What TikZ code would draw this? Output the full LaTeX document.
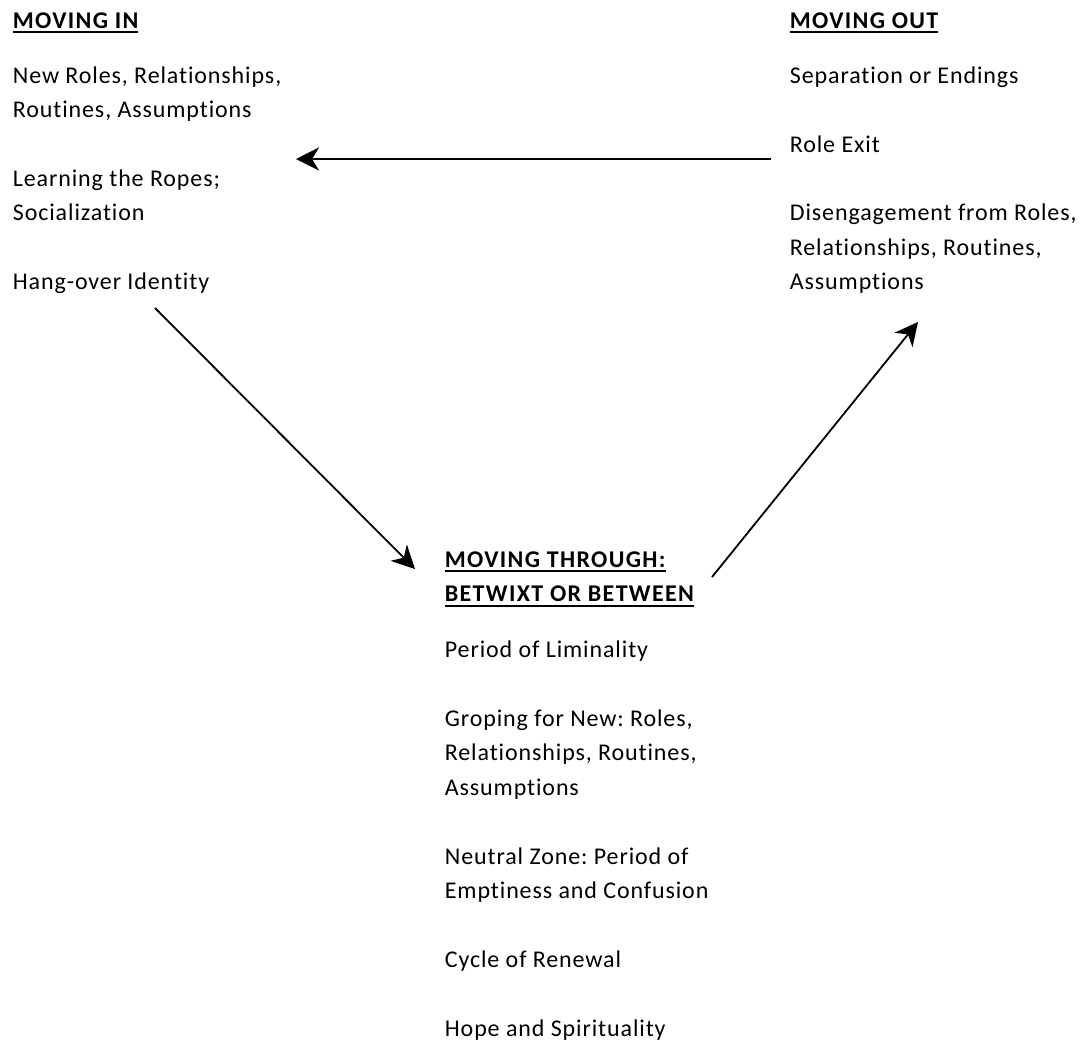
\documentclass[tikz,border=0pt]{standalone}
\usepackage{fontspec}
\setmainfont{Carlito}[Ligatures=NoCommon,LetterSpace=3.7]
\usetikzlibrary{arrows.meta}
\frenchspacing

\newcommand{\headline}[1]{\setbox0\hbox{#1}\rlap{\rule[-5pt]{\wd0}{1.6pt}}\box0}

\begin{document}
\begin{tikzpicture}[x=1pt,y=-1pt,->,>={Stealth[length=23pt,width=23pt,inset=7pt]},line width=1.8pt]
\tikzset{every node/.style={inner sep=0pt,anchor=base west,align=left,font=\fontsize{24}{34.5}\selectfont},
         head/.style={font=\fontsize{24}{34.5}\selectfont\bfseries\addfontfeatures{LetterSpace=5.6}}}
\useasboundingbox (0,0) rectangle (1086,1042);

% moving in (base = last line)
\node[head] (inhead) at (12,28) {\headline{MOVING IN}};
\node (innew) at (12,117.5) {New Roles, Relationships,\\Routines, Assumptions};
\node (inropes) at (12,220.5) {Learning the Ropes;\\Socialization};
\node (inhang) at (12,289) {Hang-over Identity};

% moving out
\node[head] (outhead) at (789,28) {\headline{MOVING OUT}};
\node (outsep) at (789,83) {Separation or Endings};
\node (outexit) at (789,152) {Role Exit};
\node (outdis) at (789,289.5) {Disengagement from Roles,\\Relationships, Routines,\\Assumptions};

% moving through
\node[head] (thhead) at (444,601.5) {\headline{MOVING THROUGH:}\\\headline{BETWIXT OR BETWEEN}};
\node (thlim) at (444,657) {Period of Liminality};
\node (thgrope) at (444,795) {Groping for New: Roles,\\Relationships, Routines,\\Assumptions};
\node (thneutral) at (444,898.5) {Neutral Zone: Period of\\Emptiness and Confusion};
\node (thcycle) at (444,967.5) {Cycle of Renewal};
\node (thhope) at (444,1036.5) {Hope and Spirituality};

\coordinate (exitstart) at (771,159);
\coordinate (ropesend) at (296,159);
\coordinate (hangstart) at (155,308);
\coordinate (thend) at (415,569);
\coordinate (thstart) at (712,577);
\coordinate (disend) at (918,322);

\draw (exitstart) -- (ropesend);
\draw (hangstart) -- (thend);
\draw (thstart) -- (disend);
\end{tikzpicture}
\end{document}
